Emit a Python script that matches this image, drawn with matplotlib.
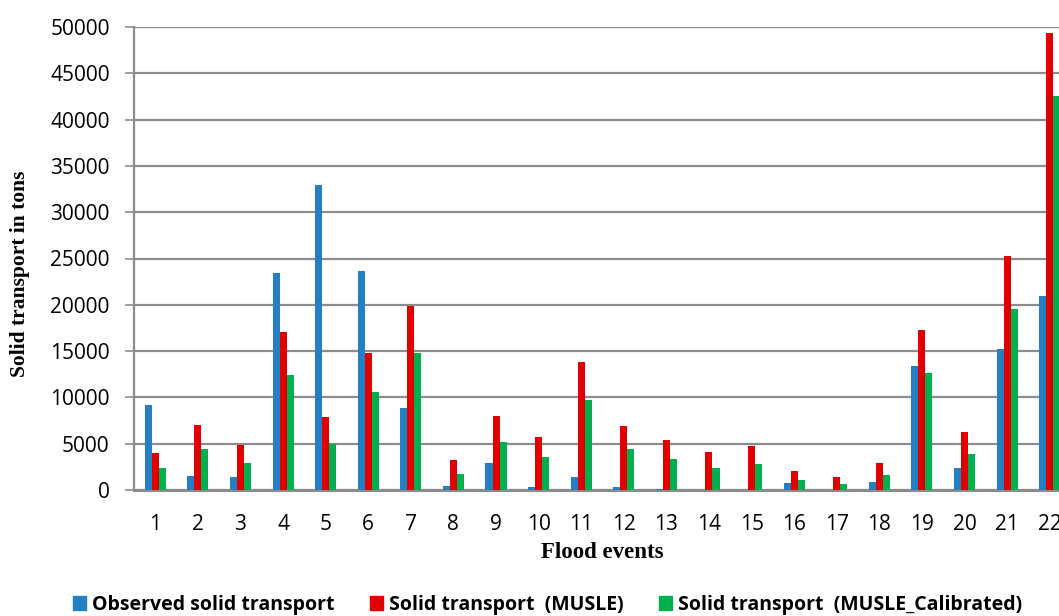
import matplotlib
matplotlib.use("Agg")
import matplotlib.pyplot as plt
import matplotlib.patches as mpatches
import numpy as np

events = [str(i) for i in range(1, 23)]
observed = [9200, 1500, 1400, 23450, 32900, 23600, 8900, 450, 2950, 350, 1400,
            300, 100, 0, 0, 750, 0, 850, 13400, 2400, 15200, 20900]
musle = [4000, 7000, 4900, 17050, 7850, 14800, 19850, 3200, 8000, 5700, 13800,
         6900, 5400, 4100, 4800, 2100, 1400, 2900, 17300, 6300, 25300, 49300]
musle_cal = [2350, 4450, 2900, 12400, 5000, 10550, 14800, 1750, 5200, 3550, 9750,
             4400, 3300, 2400, 2850, 1100, 650, 1600, 12600, 3900, 19500, 42500]

labels = ['Observed solid transport', 'Solid transport  (MUSLE)',
          'Solid transport  (MUSLE_Calibrated)']
colours = ['#2580C3', '#E00000', '#00B04F']

tick_font = 'Open Sans'
grey = '#8C8C8C'

fig = plt.figure(figsize=(10.59, 6.16), dpi=100)
# axes run past the right edge, as in the cropped original
ax = fig.add_axes([134 / 1059, 1 - 490 / 616, 937 / 1059, 463 / 616])

x = np.arange(len(events))
w = 0.165
for i, (vals, c) in enumerate(zip([observed, musle, musle_cal], colours)):
    ax.bar(x + (i - 1) * w, vals, width=w, color=c, zorder=3)

ax.set_xlim(-0.5, len(events) - 0.5)
ax.set_ylim(0, 50000)
ax.set_yticks(range(0, 50001, 5000))
ax.set_xticks(x)
ax.set_xticklabels(events)

ax.grid(axis='y', color=grey, linewidth=1.6, zorder=0)
for s in ['top', 'right']:
    ax.spines[s].set_visible(False)
ax.spines['left'].set_color(grey)
ax.spines['left'].set_linewidth(1.6)
ax.spines['bottom'].set_color(grey)
ax.spines['bottom'].set_linewidth(2.2)

ax.tick_params(axis='y', length=6.5, width=1.2, color=grey, pad=11, labelsize=15)
ax.tick_params(axis='x', length=0, pad=17, labelsize=15)
for t in ax.get_xticklabels() + ax.get_yticklabels():
    t.set_family(tick_font)

ax.set_xlabel('Flood events', family='Liberation Serif', fontweight='bold',
              fontsize=16.5, labelpad=5)
fig.text(20 / 1059, 1 - 274 / 616, 'Solid transport in tons', rotation=90,
         ha='center', va='center', family='Liberation Serif', fontweight='bold',
         fontsize=15.5)

patches = [mpatches.Patch(color=c, label=l) for c, l in zip(colours, labels)]
fig.legend(handles=patches, loc='center', bbox_to_anchor=(0.517, 0.018), ncol=3,
           frameon=False, handlelength=0.7, handleheight=0.7, handletextpad=0.3,
           columnspacing=1.8, prop={'family': tick_font, 'weight': 'bold', 'size': 14})

fig.savefig('out.png', dpi=100)
